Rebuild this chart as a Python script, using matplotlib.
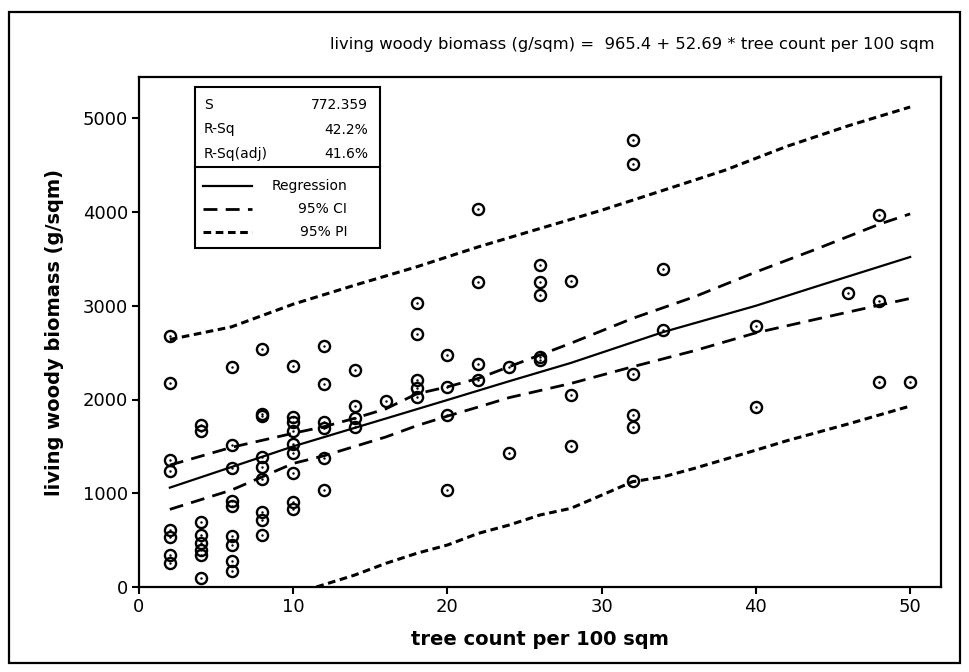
import matplotlib
matplotlib.use("Agg")
import matplotlib.pyplot as plt
from matplotlib.lines import Line2D
from matplotlib.patches import Rectangle

plt.rcParams['font.family'] = ['DejaVu Sans']

# observed points, grouped by tree count
tree_count = ([2]*8 + [4]*8 + [6]*9 + [8]*9 + [10]*9 + [12]*6 + [14]*4 + [16]
              + [18]*5 + [20]*4 + [22]*4 + [24]*2 + [26]*5 + [28]*3 + [32]*6
              + [34]*2 + [40]*2 + [46] + [48]*3 + [50])
biomass = [2680, 2180, 1360, 1240, 610, 530, 340, 260,
           1730, 1660, 690, 560, 470, 400, 340, 100,
           2350, 1520, 1270, 920, 860, 540, 450, 280, 170,
           2540, 1850, 1820, 1390, 1280, 1150, 800, 720, 560,
           2360, 1810, 1760, 1660, 1530, 1430, 1220, 910, 830,
           2570, 2170, 1760, 1700, 1380, 1040,
           2320, 1930, 1800, 1710,
           1980,
           3030, 2700, 2210, 2120, 2030,
           2470, 2130, 1830, 1030,
           4030, 3250, 2380, 2210,
           2350, 1430,
           3430, 3250, 3110, 2450, 2420,
           3260, 2050, 1500,
           4770, 4510, 2270, 1840, 1710, 1130,
           3390, 2740,
           2780, 1920,
           3140,
           3970, 3050, 2190,
           2190]

# fitted line and bands
fit_x = [2, 10, 20, 24, 28, 34, 40, 44, 50]
fit_y = [1060, 1500, 1995, 2195, 2390, 2720, 3000, 3210, 3520]

ci_x = [2, 6, 10, 12, 14, 16, 18, 20, 22, 24, 28, 32, 36, 40, 44, 48, 50]
ci_hi = [1300, 1490, 1640, 1710, 1800, 1900, 2060, 2135, 2225, 2350, 2600,
         2865, 3095, 3360, 3610, 3870, 3980]
ci_lo = [828, 1034, 1318, 1400, 1500, 1600, 1720, 1823, 1920, 2020, 2171,
         2349, 2520, 2711, 2860, 3006, 3078]

pi_hi_x = [2, 6, 10, 14, 18, 22, 26, 30, 34, 38, 42, 46, 50]
pi_hi = [2640, 2775, 3017, 3220, 3415, 3628, 3824, 4019, 4232, 4446, 4700,
         4920, 5120]
pi_lo_x = [11.5, 14, 16, 18, 20, 22, 24, 26, 28, 30, 32, 34, 36, 40, 42, 46, 50]
pi_lo = [0, 128, 252, 359, 448, 572, 661, 768, 839, 980, 1123, 1176, 1265,
         1460, 1560, 1740, 1930]

stats = [("S", "772.359"), ("R-Sq", "42.2%"), ("R-Sq(adj)", "41.6%")]

W, H = 969, 672
def fx(px):
    return px / W
def fy(py):
    return 1 - py / H

fig = plt.figure(figsize=(W/100, H/100), dpi=100)
ax = fig.add_axes([fx(139), fy(587), (941-139)/W, (587-77)/H])

ci_style = dict(color="black", lw=2.0, dashes=(5, 3))
pi_style = dict(color="black", lw=2.2, dashes=(2.5, 1.5))
fit_style = dict(color="black", lw=1.6)

ax.plot(fit_x, fit_y, **fit_style)
ax.plot(ci_x, ci_hi, **ci_style)
ax.plot(ci_x, ci_lo, **ci_style)
ax.plot(pi_hi_x, pi_hi, **pi_style)
ax.plot(pi_lo_x, pi_lo, **pi_style)
ax.plot(tree_count, biomass, "o", mfc="none", mec="black", ms=8, mew=1.7)
ax.plot(tree_count, biomass, ".", color="black", ms=1.5)

ax.set_xlim(0, 52)
ax.set_ylim(0, 5440)
ax.set_xticks([0, 10, 20, 30, 40, 50])
ax.set_yticks([0, 1000, 2000, 3000, 4000, 5000])
ax.tick_params(direction="out", length=5, width=1.5, labelsize=13, pad=3)
for s in ax.spines.values():
    s.set_linewidth(1.6)

ax.set_xlabel("tree count per 100 sqm", fontsize=14, fontweight="bold")
ax.set_ylabel("living woody biomass (g/sqm)", fontsize=14, fontweight="bold")
ax.xaxis.set_label_coords(0.5, -0.084)
ax.yaxis.set_label_coords(-0.0935, 0.5)

fig.text(fx(935), fy(44),
         "living woody biomass (g/sqm) =  965.4 + 52.69 * tree count per 100 sqm",
         ha="right", va="center", fontsize=11.75)

# statistics / legend box
fig.patches.append(Rectangle((fx(195), fy(248)), (380-195)/W, (248-87)/H,
                             transform=fig.transFigure, fill=False,
                             ec="black", lw=1.5))
fig.lines.append(Line2D([fx(195), fx(380)], [fy(167), fy(167)],
                        transform=fig.transFigure, color="black", lw=1.5))
for i, (name, val) in enumerate(stats):
    y = fy(105 + i*24.5)
    fig.text(fx(204), y, name, ha="left", va="center", fontsize=10)
    fig.text(fx(368), y, val, ha="right", va="center", fontsize=10)

legend_rows = [("Regression", fit_style), ("95% CI", ci_style), ("95% PI", pi_style)]
for i, (label, st) in enumerate(legend_rows):
    y = fy(186 + i*23)
    fig.lines.append(Line2D([fx(203), fx(252)], [y, y], transform=fig.transFigure, **st))
    fig.text(fx(347), y, label, ha="right", va="center", fontsize=10)

# outer frame
fig.patches.append(Rectangle((fx(9), fy(663)), (960-9)/W, (663-12)/H,
                             transform=fig.transFigure, fill=False,
                             ec="black", lw=1.6))

fig.savefig("out.png", dpi=100)
